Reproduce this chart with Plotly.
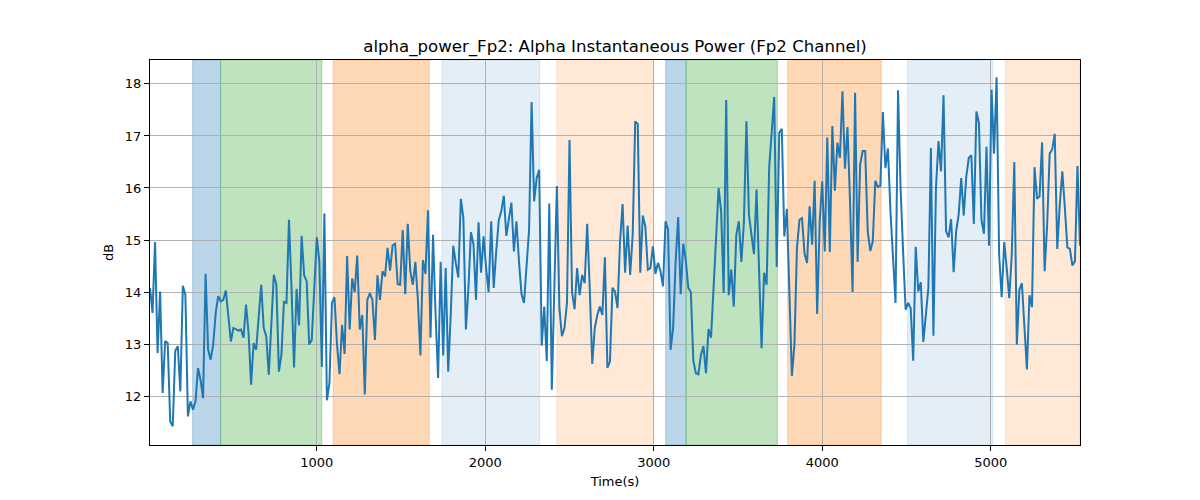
import plotly.graph_objects as go

# ---- data ----
T0 = 10
STEP = 15
values = [
    14.08, 13.60, 14.96, 12.83, 14.01, 12.06, 13.06, 13.02, 11.51, 11.42, 12.87, 12.96, 12.09, 14.12, 13.95, 11.61,
    11.90, 11.74, 11.90, 12.54, 12.31, 11.96, 14.35, 12.89, 12.70, 12.99, 13.60, 13.92, 13.82, 13.85, 14.03, 13.50,
    13.05, 13.31, 13.29, 13.26, 13.28, 13.12, 13.76, 13.21, 12.22, 13.02, 12.89, 13.60, 14.14, 13.31,
    13.15, 12.41, 13.40, 14.33, 14.14, 12.47, 12.79, 13.81, 13.79, 15.39, 14.08, 12.55, 14.06, 13.36, 15.08, 14.32,
    14.21, 12.99, 13.08, 14.08, 15.05, 14.59, 12.56, 15.51, 11.92, 12.25, 13.79, 13.90, 12.99, 12.42, 13.37, 12.81,
    14.69, 13.28, 14.26, 14.00, 14.70, 13.28, 13.56, 12.03, 13.85, 13.98, 13.85, 13.08, 14.32, 13.85,
    14.40, 14.30, 14.85, 14.41, 14.90, 14.93, 14.15, 14.14, 15.19, 13.96, 15.31, 14.40, 14.14, 14.58, 13.85, 12.78,
    14.61, 14.35, 15.57, 13.12, 15.10, 13.56, 12.35, 14.58, 12.78, 14.46, 12.47, 13.56, 14.89, 14.56, 14.28, 15.79,
    15.42, 13.28, 14.08, 15.15, 14.92, 13.85, 15.34, 14.37, 15.07, 14.46, 14.00, 15.36, 14.08,
    14.78, 15.38, 15.55, 15.85, 15.08, 15.36, 15.72, 14.78, 15.36, 14.59, 13.96, 13.79, 14.46, 15.20, 17.65, 15.74,
    16.19, 16.35, 12.97, 13.72, 12.67, 15.70, 12.12, 14.08, 16.04, 13.69, 13.15, 13.31, 13.79, 16.92, 14.00, 13.67,
    14.46, 13.94, 14.33, 14.17, 15.31, 14.08, 12.62, 13.31, 13.56, 13.72, 13.56, 14.67, 12.54, 12.67,
    14.08, 14.01, 13.69, 14.97, 15.69, 14.37, 15.28, 14.33, 15.10, 17.28, 17.23, 14.37, 15.47, 15.26, 14.43, 14.46,
    14.88, 14.35, 14.56, 14.40, 14.11, 15.36, 15.20, 12.89, 13.31, 14.59, 15.44, 13.96, 14.93, 14.62, 14.08, 14.00,
    12.68, 12.44, 12.42, 12.79, 12.96, 12.44, 13.29, 13.12, 14.08, 15.10, 16.00, 15.55, 13.98,
    17.69, 13.94, 14.43, 13.72, 15.10, 15.36, 14.58, 15.33, 17.28, 15.49, 15.10, 14.73, 15.97, 14.59, 12.92, 14.37,
    14.14, 16.38, 17.09, 17.75, 14.48, 17.06, 17.14, 15.07, 15.60, 14.08, 12.39, 12.99, 14.85, 15.39, 15.42, 14.74,
    14.56, 15.65, 14.91, 16.14, 13.58, 15.36, 16.13, 14.78, 16.97, 14.77, 17.19, 15.95, 16.87,
    16.58, 17.86, 16.37, 17.17, 15.74, 14.00, 17.83, 14.58, 16.45, 16.71, 16.71, 15.17, 14.79, 14.97, 16.14, 16.02,
    16.04, 17.46, 16.38, 16.76, 15.55, 14.59, 13.79, 17.88, 16.00, 14.78, 13.66, 13.79, 13.69, 12.68, 14.87, 14.01,
    14.19, 13.04, 13.50, 14.08, 16.77, 13.16, 16.00, 16.90, 16.32, 17.78, 15.17, 15.05, 15.40, 14.38,
    15.17, 15.49, 16.19, 15.47, 16.22, 16.58, 16.63, 15.31, 17.47, 17.25, 15.39, 15.12, 16.79, 14.89, 17.89, 16.66,
    18.13, 14.72, 13.90, 14.96, 14.46, 13.88, 14.72, 16.50, 12.99, 14.04, 14.17, 13.31, 12.51, 13.94, 13.71, 16.40,
    15.79, 15.84, 16.88, 14.40, 15.29, 16.66, 16.74, 17.04, 14.83, 15.68, 16.32, 15.62, 14.86, 14.83, 14.51, 14.59,
    16.42, 14.89,
]
times = [T0 + STEP * i for i in range(len(values))]

band_starts = [263, 429, 1097, 1743, 2425, 3071, 3192, 3795, 4506, 5087]
band_ends = [429, 1030, 1668, 2323, 3000, 3192, 3734, 4350, 5012, 5530]
band_kinds = ["blue", "green", "orange", "lightblue", "lightorange",
              "blue", "green", "orange", "lightblue", "lightorange"]
band_colors = {
    "blue": "rgba(31,119,180,0.3)",
    "green": "rgba(44,160,44,0.3)",
    "orange": "rgba(255,127,14,0.3)",
    "lightblue": "rgba(31,119,180,0.12)",
    "lightorange": "rgba(255,127,14,0.17)",
}

x_ticks = [1000, 2000, 3000, 4000, 5000]
y_ticks = [12, 13, 14, 15, 16, 17, 18]

# ---- figure ----
fig = go.Figure()
fig.add_trace(go.Scatter(x=times, y=values, mode="lines",
                         line=dict(color="#1f77b4", width=2), hoverinfo="skip"))

for s, e, k in zip(band_starts, band_ends, band_kinds):
    fig.add_shape(type="rect", xref="x", yref="paper", x0=s, x1=e, y0=0, y1=1,
                  fillcolor=band_colors[k], line=dict(color=band_colors[k], width=1),
                  layer="below")

fig.update_layout(
    width=1192, height=492,
    margin=dict(l=142, r=120, t=52, b=55),
    plot_bgcolor="white", paper_bgcolor="white",
    font=dict(family="DejaVu Sans", size=13, color="black"),
    showlegend=False,
    title=dict(text="alpha_power_Fp2: Alpha Instantaneous Power (Fp2 Channel)",
               x=0.5, xref="paper", xanchor="center",
               y=1 - 38 / 492, yref="container", yanchor="middle",
               font=dict(size=16.6, color="black")),
)
fig.update_xaxes(range=[T0, times[-1]], tickvals=x_ticks, ticks="outside", ticklen=5,
                 tickcolor="black", showline=True, linecolor="black", linewidth=1, mirror=True,
                 showgrid=True, gridcolor="#b0b0b0", gridwidth=1, zeroline=False,
                 title=dict(text="Time(s)", standoff=8, font=dict(size=13)))
fig.update_yaxes(range=[11.06, 18.46], tickvals=y_ticks, ticks="outside", ticklen=5,
                 tickcolor="black", showline=True, linecolor="black", linewidth=1, mirror=True,
                 showgrid=True, gridcolor="#b0b0b0", gridwidth=1, zeroline=False,
                 title=dict(text="dB", standoff=8, font=dict(size=13)))

fig.write_html("out.html")
